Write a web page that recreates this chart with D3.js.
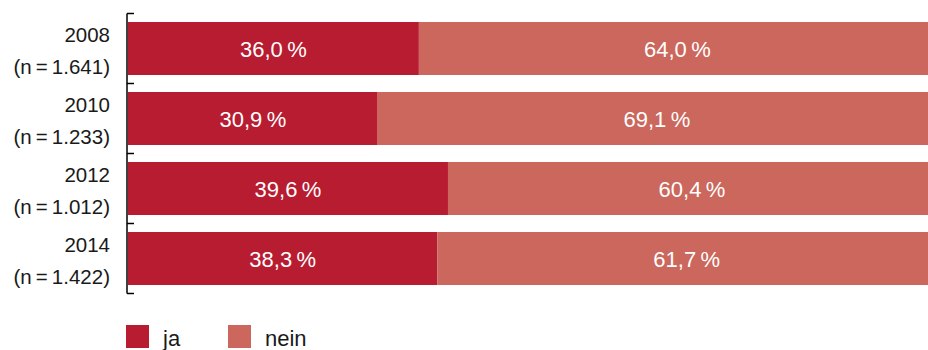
<!DOCTYPE html>
<html>
<head>
<meta charset="utf-8">
<script src="https://cdn.jsdelivr.net/npm/d3@7"></script>
<style>
  body { margin: 0; background: #fff; }
  text { font-family: "Liberation Sans", Arial, Helvetica, sans-serif; }
</style>
</head>
<body>
<div id="chart"></div>
<script>
// ---------- DATA ----------
const years = ["2008", "2010", "2012", "2014"];
const sampleSizes = ["1.641", "1.233", "1.012", "1.422"];
const ja = [36.0, 30.9, 39.6, 38.3];
const nein = [64.0, 69.1, 60.4, 61.7];
const seriesNames = ["ja", "nein"];
const seriesColors = ["#b81c30", "#cb675c"];

const width = 928;
const height = 350;
const margin = { top: 13.5, right: 0, bottom: 56.5, left: 128 };

const svg = d3
	.select("#chart")
	.append("svg")
	.attr("width", width)
	.attr("height", height);

const rows = years.map((y, i) => ({ year: y, n: sampleSizes[i], ja: ja[i], nein: nein[i] }));
const stacked = d3.stack().keys(seriesNames)(rows);

// bars run a little past the right edge of the picture
const xScale = d3.scaleLinear().domain([0, 100]).range([margin.left, 936]);

const yScale = d3
	.scaleBand()
	.domain(years)
	.range([margin.top, height - margin.bottom])
	.paddingInner(0.243)
	.paddingOuter(0.1215);

const colorScale = d3.scaleOrdinal().domain(seriesNames).range(seriesColors);

const fmt = (v) => d3.format(".1f")(v).replace(".", ",") + "\u2009%";

const layers = svg
	.append("g")
	.selectAll("g")
	.data(stacked)
	.join("g")
	.attr("fill", (d) => colorScale(d.key));

layers
	.selectAll("rect")
	.data((d) => d)
	.join("rect")
	.attr("x", (d) => xScale(d[0]))
	.attr("y", (d) => yScale(d.data.year))
	.attr("width", (d) => xScale(d[1]) - xScale(d[0]))
	.attr("height", yScale.bandwidth());

layers
	.selectAll("text")
	.data((d) => d)
	.join("text")
	.attr("x", (d) => (xScale(d[0]) + xScale(d[1])) / 2)
	.attr("y", (d) => yScale(d.data.year) + yScale.bandwidth() / 2 + 8.5)
	.attr("text-anchor", "middle")
	.attr("fill", "#fff")
	.attr("font-size", 22)
	.text((d) => fmt(d[1] - d[0]));

// axis with ticks on the band boundaries
const edges = years.map((y) => yScale(y) - yScale.step() * yScale.paddingInner() / 2);
edges.push(height - margin.bottom);

const axisG = svg.append("g").attr("stroke", "#000").attr("stroke-width", 1.5);
axisG
	.append("line")
	.attr("x1", 127)
	.attr("x2", 127)
	.attr("y1", edges[0])
	.attr("y2", edges[edges.length - 1]);
axisG
	.selectAll(".tick")
	.data(edges)
	.join("line")
	.attr("x1", 127)
	.attr("x2", 134)
	.attr("y1", (d) => d)
	.attr("y2", (d) => d);

// category labels
const labelG = svg
	.append("g")
	.selectAll("text")
	.data(rows)
	.join("text")
	.attr("text-anchor", "end")
	.attr("font-size", 20.5)
	.attr("fill", "#1a1a1a");
labelG
	.append("tspan")
	.attr("x", 110)
	.attr("y", (d) => yScale(d.year) + yScale.bandwidth() / 2 - 6.5)
	.text((d) => d.year);
labelG
	.append("tspan")
	.attr("x", 110)
	.attr("y", (d) => yScale(d.year) + yScale.bandwidth() / 2 + 25)
	.text((d) => `(n\u2009=\u2009${d.n})`);

// legend
const legendG = svg
	.append("g")
	.selectAll("g")
	.data(seriesNames)
	.join("g")
	.attr("transform", (d, i) => `translate(${126 + i * 102}, 325)`);
legendG
	.append("rect")
	.attr("width", 23)
	.attr("height", 23)
	.attr("fill", (d) => colorScale(d));
legendG
	.append("text")
	.attr("x", 37)
	.attr("y", 21)
	.attr("font-size", 22)
	.attr("fill", "#1a1a1a")
	.text((d) => d);
</script>
</body>
</html>
